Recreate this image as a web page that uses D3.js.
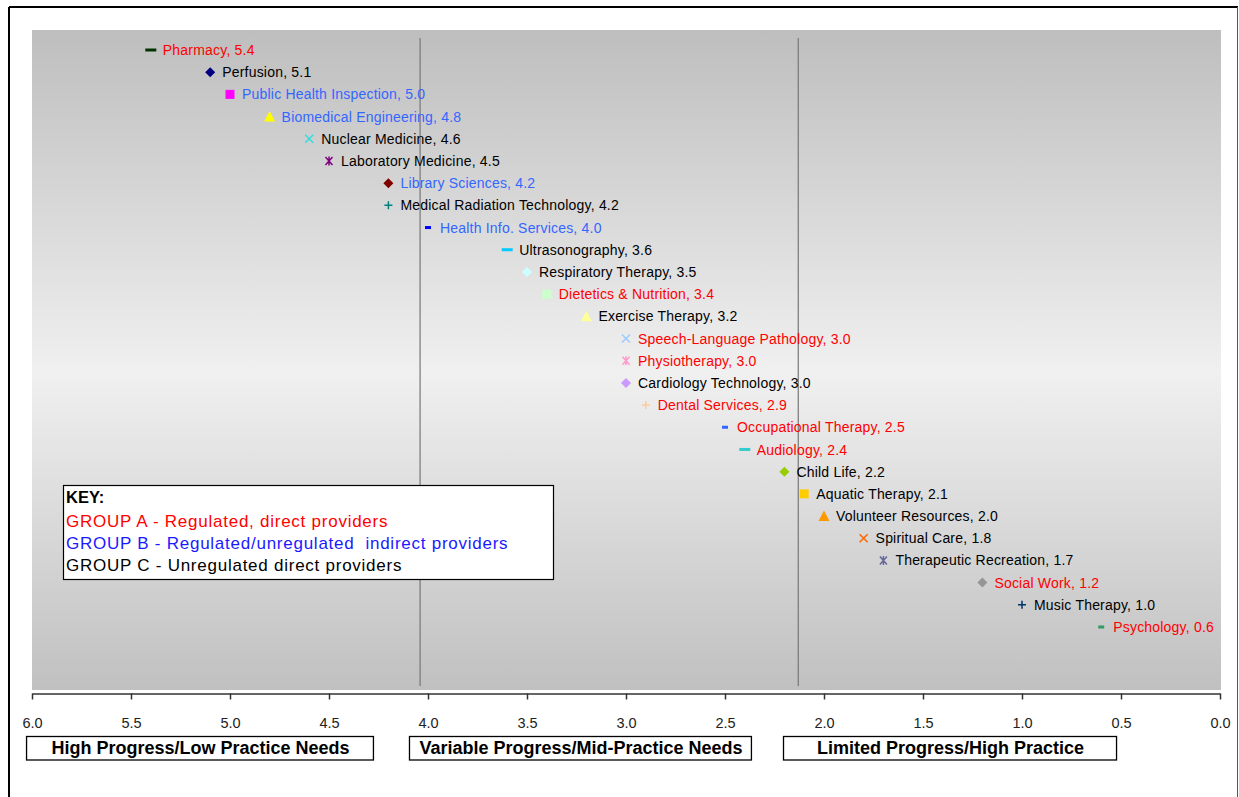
<!DOCTYPE html>
<html>
<head>
<meta charset="utf-8">
<script src="https://cdn.jsdelivr.net/npm/d3@7"></script>
<style>
body { margin: 0; background: #fff; }
text { font-family: "Liberation Sans", Arial, sans-serif; }
</style>
</head>
<body>
<script>
// professions, top to bottom
var professions = ["Pharmacy", "Perfusion", "Public Health Inspection", "Biomedical Engineering",
  "Nuclear Medicine", "Laboratory Medicine", "Library Sciences", "Medical Radiation Technology",
  "Health Info. Services", "Ultrasonography", "Respiratory Therapy", "Dietetics & Nutrition",
  "Exercise Therapy", "Speech-Language Pathology", "Physiotherapy", "Cardiology Technology",
  "Dental Services", "Occupational Therapy", "Audiology", "Child Life", "Aquatic Therapy",
  "Volunteer Resources", "Spiritual Care", "Therapeutic Recreation", "Social Work",
  "Music Therapy", "Psychology"];
var scores = [5.4, 5.1, 5.0, 4.8, 4.6, 4.5, 4.2, 4.2, 4.0, 3.6, 3.5, 3.4, 3.2, 3.0, 3.0, 3.0,
  2.9, 2.5, 2.4, 2.2, 2.1, 2.0, 1.8, 1.7, 1.2, 1.0, 0.6];
var groups = ["A", "C", "B", "B", "C", "C", "B", "C", "B", "C", "C", "A", "C", "A", "A", "C",
  "A", "A", "A", "C", "C", "C", "C", "C", "A", "C", "A"];
var xTicks = [6.0, 5.5, 5.0, 4.5, 4.0, 3.5, 3.0, 2.5, 2.0, 1.5, 1.0, 0.5, 0.0];
var dividers = [4.04, 2.13];
var zoneLabels = ["High Progress/Low Practice Needs", "Variable Progress/Mid-Practice Needs",
  "Limited Progress/High Practice"];
var zoneRanges = [[6.025, 4.273], [4.091, 2.364], [2.202, 0.52]];
var keyLines = ["KEY:", "GROUP A - Regulated, direct providers",
  "GROUP B - Regulated/unregulated  indirect providers", "GROUP C - Unregulated direct providers"];

// excel-ish series marker cycle
var shapes = ["dash", "diamond", "square", "triangle", "x", "star", "diamond", "plus", "sdash",
  "dash", "diamond", "square", "triangle", "x", "star", "diamond", "plus", "sdash", "dash",
  "diamond", "square", "triangle", "x", "star", "diamond", "plus", "sdash"];
var markerColors = ["#003300", "#000080", "#ff00ff", "#ffff00", "#33dddd", "#800080", "#800000",
  "#008080", "#0000ff", "#00ccff", "#ccffff", "#ccffcc", "#ffff99", "#99ccff", "#ff99cc",
  "#cc99ff", "#ffcc99", "#3366ff", "#33cccc", "#99cc00", "#ffcc00", "#ff9900", "#ff6600",
  "#666699", "#969696", "#003366", "#339966"];
var groupColor = {A: "#ff0000", B: "#3366ff", C: "#000000"};

var W = 1239, H = 797;
var svg = d3.select("body").append("svg").attr("width", W).attr("height", H);

// outer frame (top + sides visible)
svg.append("line").attr("x1", 9).attr("x2", 1238).attr("y1", 7).attr("y2", 7)
  .attr("stroke", "#000").attr("stroke-width", 2);
svg.append("line").attr("x1", 9).attr("x2", 9).attr("y1", 7).attr("y2", H)
  .attr("stroke", "#000").attr("stroke-width", 2);
svg.append("line").attr("x1", 1237.5).attr("x2", 1237.5).attr("y1", 7).attr("y2", H)
  .attr("stroke", "#555").attr("stroke-width", 1);

var plot = {left: 32, right: 1220, top: 30, bottom: 690};

var x = d3.scaleLinear().domain([6, 0]).range([plot.left, plot.right]);
var y = d3.scalePoint().domain(professions).range([50, 627]);

// background gradient
var grad = svg.append("defs").append("linearGradient").attr("id", "bg")
  .attr("x1", 0).attr("x2", 0).attr("y1", 0).attr("y2", 1);
grad.append("stop").attr("offset", "0%").attr("stop-color", "#bebebe");
grad.append("stop").attr("offset", "52%").attr("stop-color", "#f0f0f0");
grad.append("stop").attr("offset", "100%").attr("stop-color", "#c0c0c0");

svg.append("rect").attr("x", plot.left).attr("y", plot.top)
  .attr("width", plot.right - plot.left + 1).attr("height", plot.bottom - plot.top)
  .attr("fill", "url(#bg)");

// divider lines
svg.selectAll("line.div").data(dividers).enter().append("line").attr("class", "div")
  .attr("x1", function(d){return x(d)}).attr("x2", function(d){return x(d)})
  .attr("y1", 38).attr("y2", 686)
  .attr("stroke", "#777").attr("stroke-width", 1.2);

// x axis
var axis = d3.axisBottom(x).tickValues(xTicks).tickFormat(d3.format(".1f"))
  .tickSize(6).tickSizeOuter(0);
var gx = svg.append("g").attr("transform", "translate(0,693.5)").call(axis);
gx.select(".domain").attr("stroke", "#333").attr("stroke-width", 1.5);
gx.selectAll(".tick line").attr("stroke", "#333").attr("stroke-width", 1.5);
gx.selectAll(".tick text").attr("y", 24).attr("font-size", 14.5)
  .attr("font-family", "'DejaVu Sans', sans-serif").attr("fill", "#222");

// markers
function markerPath(s) {
  switch (s) {
    case "diamond": return "M0,-5L5,0L0,5L-5,0Z";
    case "square": return "M-4.5,-4.5H4.5V4.5H-4.5Z";
    case "triangle": return "M0,-5.5L5.5,5L-5.5,5Z";
    case "dash": return "M-5.5,-1.5H5.5V1.5H-5.5Z";
    case "sdash": return "M-3,-1.5H3V1.5H-3Z";
    case "x": return "M-4,-4L4,4M-4,4L4,-4";
    case "star": return "M-3.5,-4L3.5,4M-3.5,4L3.5,-4M0,-4.5V4.5";
    case "plus": return "M-4,0H4M0,-4V4";
  }
}
var stroked = {x: 1, star: 1, plus: 1};

var rows = svg.selectAll("g.row").data(professions).enter().append("g").attr("class", "row")
  .attr("transform", function(d, i){return "translate(" + x(scores[i]) + "," + y(d) + ")"});

rows.append("path")
  .attr("d", function(d, i){return markerPath(shapes[i])})
  .attr("fill", function(d, i){return stroked[shapes[i]] ? "none" : markerColors[i]})
  .attr("stroke", function(d, i){return stroked[shapes[i]] ? markerColors[i] : "none"})
  .attr("stroke-width", 1.5);

rows.append("text")
  .attr("x", 12).attr("dy", "0.36em")
  .attr("font-size", 14).attr("letter-spacing", 0.2)
  .attr("fill", function(d, i){return groupColor[groups[i]]})
  .text(function(d, i){return d + ", " + d3.format(".1f")(scores[i])});

// key box
var key = svg.append("g").attr("transform", "translate(63,485)");
key.append("rect").attr("x", 0.5).attr("y", 0.5).attr("width", 490).attr("height", 94)
  .attr("fill", "#fff").attr("stroke", "#000").attr("stroke-width", 1.2);
var keyColors = ["#000", "#ff0000", "#1a1aff", "#000"];
key.selectAll("text").data(keyLines).enter().append("text")
  .attr("x", 3).attr("y", function(d, i){return i === 0 ? 18 : 42 + (i - 1) * 22})
  .attr("font-size", function(d, i){return i === 0 ? 16.5 : 17})
  .attr("font-weight", function(d, i){return i === 0 ? "bold" : "normal"})
  .attr("letter-spacing", function(d, i){return i === 0 ? 0 : 0.75})
  .attr("fill", function(d, i){return keyColors[i]})
  .style("white-space", "pre")
  .text(function(d){return d});

// zone label boxes under axis
var zones = svg.selectAll("g.zone").data(zoneLabels).enter().append("g").attr("class", "zone");
zones.append("rect")
  .attr("x", function(d, i){return x(zoneRanges[i][0]) - 0.5})
  .attr("y", 736.5)
  .attr("width", function(d, i){return x(zoneRanges[i][1]) - x(zoneRanges[i][0])})
  .attr("height", 23.5)
  .attr("fill", "#fff").attr("stroke", "#000").attr("stroke-width", 1.3);
zones.append("text")
  .attr("x", function(d, i){return (x(zoneRanges[i][0]) + x(zoneRanges[i][1])) / 2})
  .attr("y", 754)
  .attr("text-anchor", "middle")
  .attr("font-size", 18).attr("font-weight", "bold")
  .text(function(d){return d});
</script>
</body>
</html>
